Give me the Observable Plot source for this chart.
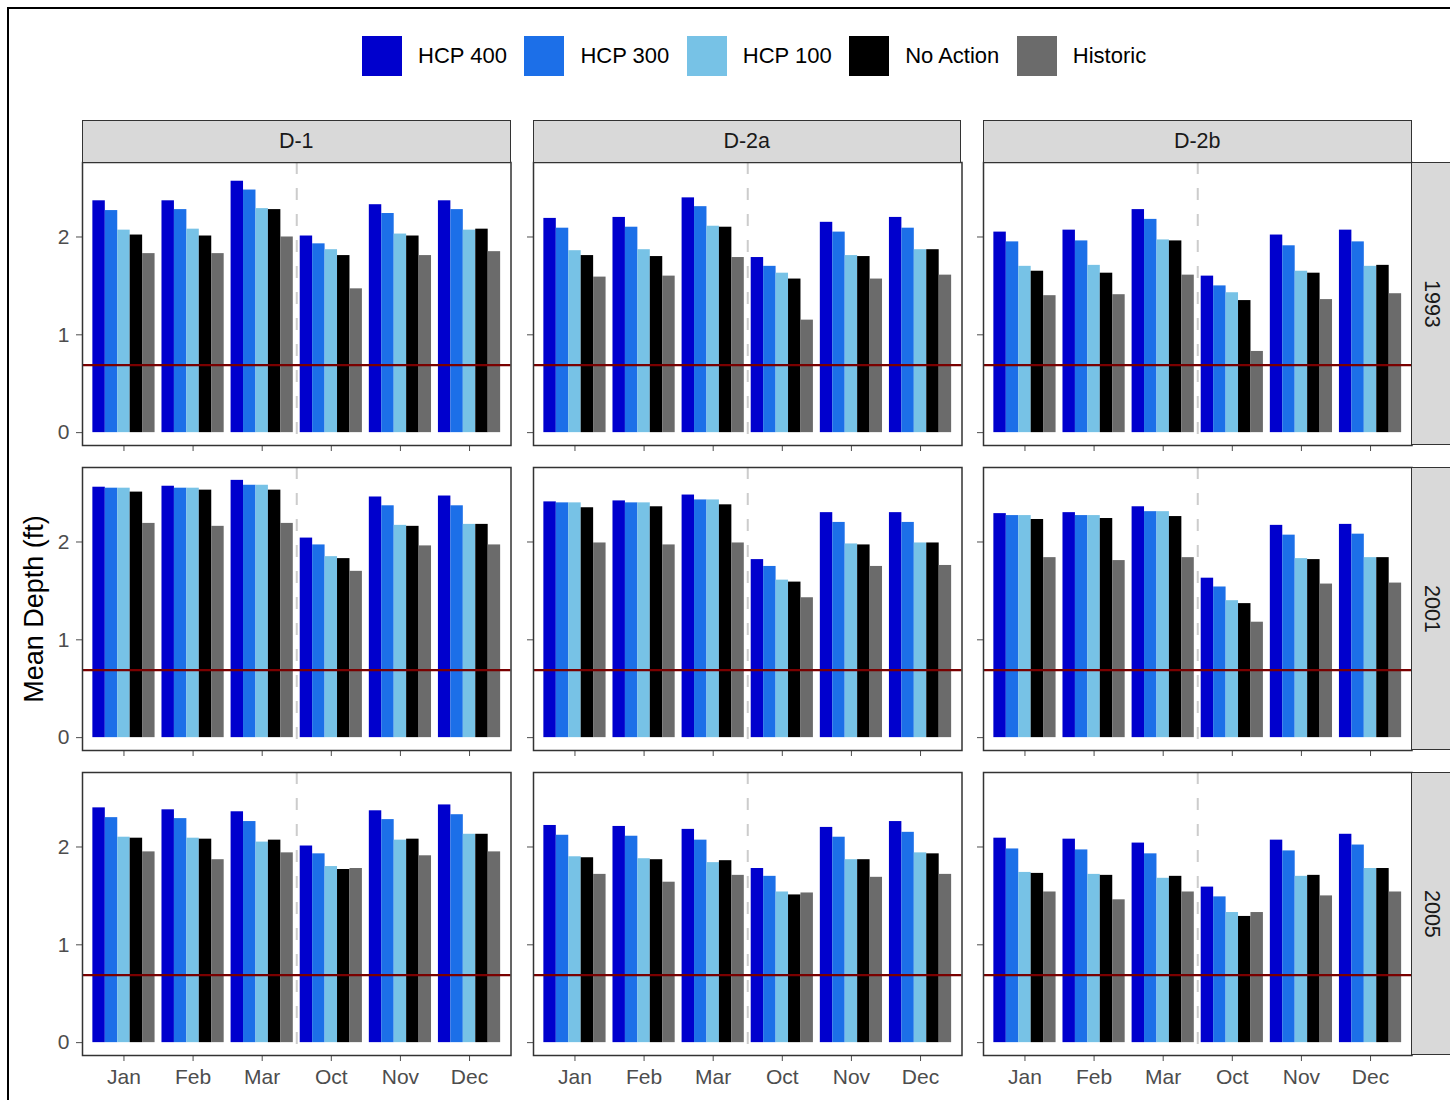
<!DOCTYPE html>
<html>
<head>
<meta charset="utf-8">
<script src="https://cdn.jsdelivr.net/npm/d3@7"></script>
<script src="https://cdn.jsdelivr.net/npm/@observablehq/plot@0.6"></script>
<style>
  body { margin: 0; background: #fff; font-family: "Liberation Sans", Arial, Helvetica, sans-serif; }
  #page { position: relative; width: 1450px; height: 1100px; overflow: hidden; background: #fff; }
  .outer { position: absolute; left: 7px; top: 7px; width: 1600px; height: 1200px;
           border-left: 2px solid #000; border-top: 2px solid #000; box-sizing: border-box; }
  .legend { position: absolute; top: 36px; left: 362px; display: flex; align-items: center;
            font-size: 22px; color: #000; white-space: nowrap; }
  .legend .sw { width: 40px; height: 40px; margin-right: 16px; }
  .legend .lab { margin-right: 17.5px; }
  .strip { position: absolute; background: #d9d9d9; border: 1.5px solid #333; box-sizing: border-box;
           display: flex; align-items: center; justify-content: center; font-size: 21.5px; color: #1a1a1a; }
  .strip.right span { writing-mode: vertical-rl; }
  .ytitle { position: absolute; left: 34px; top: 609px; transform: translate(-50%, -50%) rotate(-90deg);
            font-size: 27px; color: #000; white-space: nowrap; }
</style>
</head>
<body>
<div id="page"></div>
<script>
// Categories
const months = ["Jan", "Feb", "Mar", "Oct", "Nov", "Dec"];
const series = ["HCP 400", "HCP 300", "HCP 100", "No Action", "Historic"];
const seriesColors = ["#0000cd", "#1c6fe8", "#77c2e6", "#000000", "#6b6b6b"];
const locations = ["D-1", "D-2a", "D-2b"];
const years = ["1993", "2001", "2005"];
const threshold = 0.69;   // reference depth (ft)
const yTicks = [0, 1, 2];

// Mean depth (ft): one row per month, columns in the order of `series`
const d1_1993 = [
  [2.37, 2.27, 2.07, 2.02, 1.83],
  [2.37, 2.28, 2.08, 2.01, 1.83],
  [2.57, 2.48, 2.29, 2.28, 2.00],
  [2.01, 1.93, 1.87, 1.81, 1.47],
  [2.33, 2.24, 2.03, 2.01, 1.81],
  [2.37, 2.28, 2.07, 2.08, 1.85]
];
const d2a_1993 = [
  [2.19, 2.09, 1.86, 1.81, 1.59],
  [2.20, 2.10, 1.87, 1.80, 1.60],
  [2.40, 2.31, 2.11, 2.10, 1.79],
  [1.79, 1.70, 1.63, 1.57, 1.15],
  [2.15, 2.05, 1.81, 1.80, 1.57],
  [2.20, 2.09, 1.87, 1.87, 1.61]
];
const d2b_1993 = [
  [2.05, 1.95, 1.70, 1.65, 1.40],
  [2.07, 1.96, 1.71, 1.63, 1.41],
  [2.28, 2.18, 1.97, 1.96, 1.61],
  [1.60, 1.50, 1.43, 1.35, 0.83],
  [2.02, 1.91, 1.65, 1.63, 1.36],
  [2.07, 1.95, 1.70, 1.71, 1.42]
];
const d1_2001 = [
  [2.56, 2.55, 2.55, 2.51, 2.19],
  [2.57, 2.55, 2.55, 2.53, 2.16],
  [2.63, 2.58, 2.58, 2.53, 2.19],
  [2.04, 1.97, 1.85, 1.83, 1.70],
  [2.46, 2.37, 2.17, 2.16, 1.96],
  [2.47, 2.37, 2.18, 2.18, 1.97]
];
const d2a_2001 = [
  [2.41, 2.40, 2.40, 2.35, 1.99],
  [2.42, 2.40, 2.40, 2.36, 1.97],
  [2.48, 2.43, 2.43, 2.38, 1.99],
  [1.82, 1.75, 1.61, 1.59, 1.43],
  [2.30, 2.20, 1.98, 1.97, 1.75],
  [2.30, 2.20, 1.99, 1.99, 1.76]
];
const d2b_2001 = [
  [2.29, 2.27, 2.27, 2.23, 1.84],
  [2.30, 2.27, 2.27, 2.24, 1.81],
  [2.36, 2.31, 2.31, 2.26, 1.84],
  [1.63, 1.54, 1.40, 1.37, 1.18],
  [2.17, 2.07, 1.83, 1.82, 1.57],
  [2.18, 2.08, 1.84, 1.84, 1.58]
];
const d1_2005 = [
  [2.40, 2.30, 2.10, 2.09, 1.95],
  [2.38, 2.29, 2.09, 2.08, 1.87],
  [2.36, 2.26, 2.05, 2.07, 1.94],
  [2.01, 1.93, 1.80, 1.77, 1.78],
  [2.37, 2.28, 2.07, 2.08, 1.91],
  [2.43, 2.33, 2.13, 2.13, 1.95]
];
const d2a_2005 = [
  [2.22, 2.12, 1.90, 1.89, 1.72],
  [2.21, 2.11, 1.88, 1.87, 1.64],
  [2.18, 2.07, 1.84, 1.86, 1.71],
  [1.78, 1.70, 1.54, 1.51, 1.53],
  [2.20, 2.10, 1.87, 1.87, 1.69],
  [2.26, 2.15, 1.94, 1.93, 1.72]
];
const d2b_2005 = [
  [2.09, 1.98, 1.74, 1.73, 1.54],
  [2.08, 1.97, 1.72, 1.71, 1.46],
  [2.04, 1.93, 1.68, 1.70, 1.54],
  [1.59, 1.49, 1.33, 1.29, 1.33],
  [2.07, 1.96, 1.70, 1.71, 1.50],
  [2.13, 2.02, 1.78, 1.78, 1.54]
];

// grid of tables: rows = years, columns = locations
const grid = [
  [d1_1993, d2a_1993, d2b_1993],
  [d1_2001, d2a_2001, d2b_2001],
  [d1_2005, d2a_2005, d2b_2005]
];

// ---- layout ----
const panelW = 428.5, panelH = 283;
const colLeft = [82, 532.5, 983];
const rowTop = [162, 467, 772];
const stripH = 42, stripW = 42;
const ML = 44, MR = 4, MT = 4, MB = 50;

// shared y scale across all panels (5% padding each side, like fixed facet scales)
const yMax = d3.max(grid.flat(3));
const yDomain = [-0.05 * yMax, 1.05 * yMax];

// dodged bars: group of width 0.9 centred on each month
const groupW = 0.9, barW = groupW / series.length;
const splitAt = (months.indexOf("Mar") + months.indexOf("Oct")) / 2 + 1;

const page = document.getElementById("page");
const frameDiv = document.createElement("div");
frameDiv.className = "outer";
page.appendChild(frameDiv);

// legend
const legend = document.createElement("div");
legend.className = "legend";
series.forEach((s, i) => {
  const sw = document.createElement("div");
  sw.className = "sw";
  sw.style.background = seriesColors[i];
  const lab = document.createElement("div");
  lab.className = "lab";
  lab.textContent = s;
  legend.appendChild(sw);
  legend.appendChild(lab);
});
page.appendChild(legend);

// panels
grid.forEach((row, ri) => {
  row.forEach((table, ci) => {
    const rows = months.flatMap((m, mi) => series.map((s, si) => ({
      month: m, series: s, mi, si, value: table[mi][si]
    })));
    const showX = ri === years.length - 1;
    const showY = ci === 0;
    const svg = Plot.plot({
      width: ML + panelW + MR,
      height: MT + panelH + MB,
      marginLeft: ML, marginRight: MR, marginTop: MT, marginBottom: MB,
      style: {
        fontFamily: '"Liberation Sans", Arial, Helvetica, sans-serif',
        fontSize: "21px",
        color: "#4d4d4d",
        background: "transparent",
        overflow: "visible"
      },
      x: {
        domain: [0.4, months.length + 0.6],
        ticks: months.map((m, i) => i + 1),
        tickFormat: showX ? (i => months[i - 1]) : (() => ""),
        tickSize: 6, tickPadding: 8, label: null
      },
      y: {
        domain: yDomain,
        ticks: yTicks,
        tickFormat: showY ? d3.format("d") : (() => ""),
        tickSize: 6, tickPadding: 7, label: null
      },
      color: { domain: series, range: seriesColors },
      marks: [
        Plot.rect(rows, {
          x1: d => d.mi + 1 - groupW / 2 + d.si * barW,
          x2: d => d.mi + 1 - groupW / 2 + (d.si + 1) * barW,
          y1: () => 0,
          y2: "value",
          fill: "series"
        }),
        Plot.ruleX([splitAt], { stroke: "#cccccc", strokeWidth: 2, strokeDasharray: "12,14" }),
        Plot.ruleY([threshold], { stroke: "#7a0000", strokeWidth: 2.2 }),
        Plot.frame({ stroke: "#333333", strokeWidth: 1.5 })
      ]
    });
    svg.style.position = "absolute";
    svg.style.left = (colLeft[ci] - ML) + "px";
    svg.style.top = (rowTop[ri] - MT) + "px";
    svg.style.maxWidth = "none";
    page.appendChild(svg);
  });
});

// facet strips: locations on top, years on the right
locations.forEach((loc, ci) => {
  const s = document.createElement("div");
  s.className = "strip";
  s.style.left = colLeft[ci] + "px";
  s.style.top = (rowTop[0] - stripH) + "px";
  s.style.width = panelW + "px";
  s.style.height = (stripH + 0.75) + "px";
  s.textContent = loc;
  page.appendChild(s);
});
years.forEach((yr, ri) => {
  const s = document.createElement("div");
  s.className = "strip right";
  s.style.left = (colLeft[2] + panelW - 0.75) + "px";
  s.style.top = rowTop[ri] + "px";
  s.style.width = stripW + "px";
  s.style.height = panelH + "px";
  const t = document.createElement("span");
  t.textContent = yr;
  s.appendChild(t);
  page.appendChild(s);
});

// y axis title
const yt = document.createElement("div");
yt.className = "ytitle";
yt.textContent = "Mean Depth (ft)";
page.appendChild(yt);
</script>
</body>
</html>
